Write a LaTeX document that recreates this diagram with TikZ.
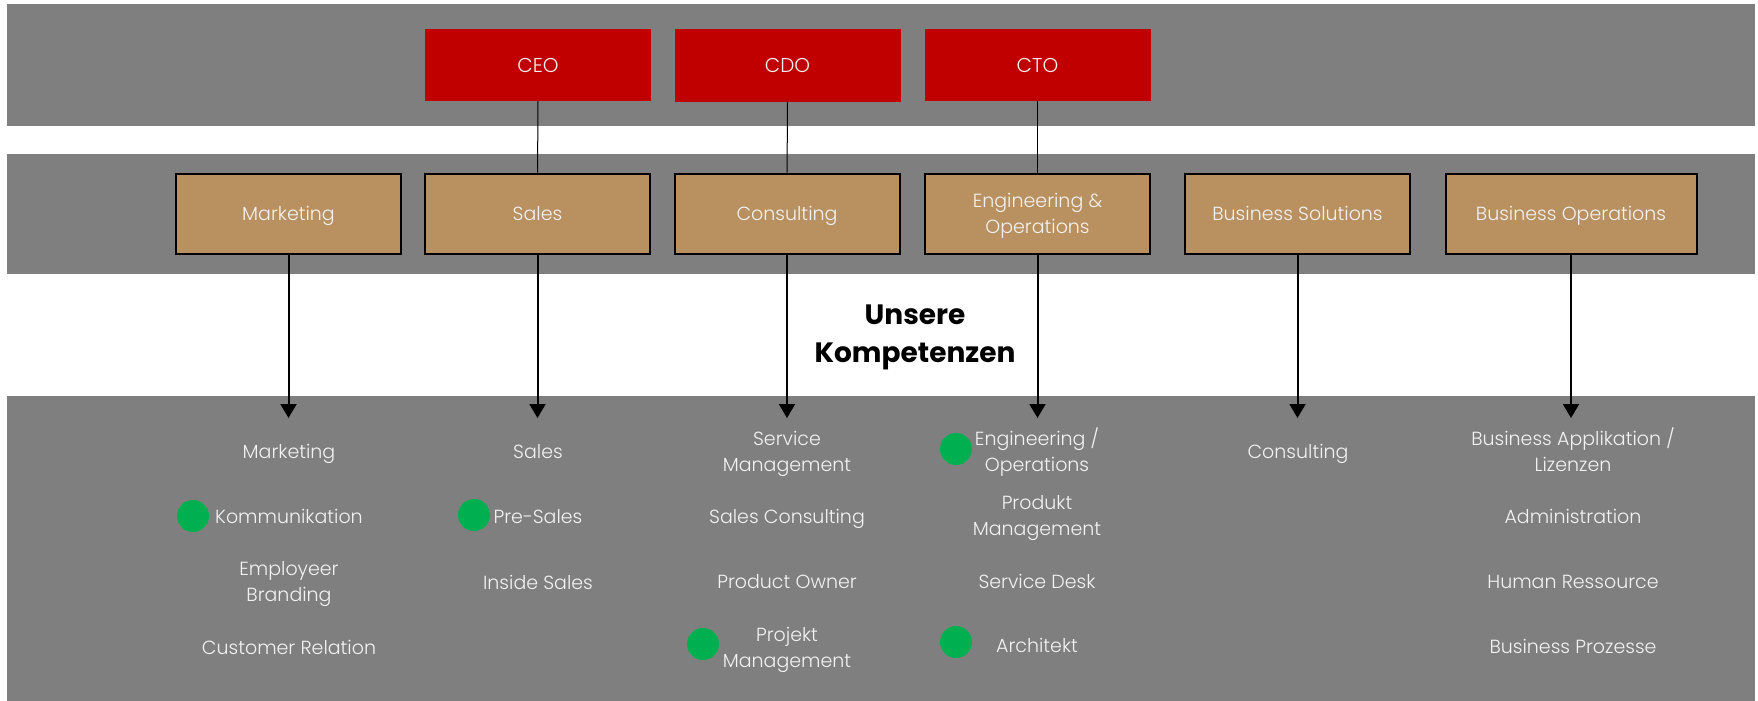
\documentclass[tikz,border=0pt]{standalone}
\usepackage{fontspec}
\setmainfont{Poppins Light}
\newfontfamily\headfont{Poppins}
\usetikzlibrary{arrows.meta}
\definecolor{bandgray}{HTML}{7F7F7F}
\definecolor{chiefred}{HTML}{C00000}
\definecolor{unitbrown}{HTML}{B99160}
\definecolor{dotgreen}{HTML}{00B050}
\definecolor{textwhite}{HTML}{F2F2F2}

\begin{document}
\begin{tikzpicture}[x=1pt,y=-1pt]
    \tikzstyle{chief}=[rectangle,fill=chiefred,minimum width=226pt,minimum height=72pt,text=textwhite,text depth=0pt,font=\fontsize{20}{24}\selectfont]
    \tikzstyle{unit}=[rectangle,draw=black,line width=2pt,fill=unitbrown,minimum width=225pt,minimum height=80pt,text=textwhite,text depth=0pt,align=center,font=\fontsize{19}{26}\selectfont]
    \tikzstyle{skill}=[text=textwhite,align=center,anchor=base,font=\fontsize{19}{26}\selectfont]
    \tikzstyle{dot}=[circle,fill=dotgreen,inner sep=0pt,minimum size=32pt]
    \tikzstyle{down}=[draw,line width=2pt,-{Triangle[length=14pt,width=16pt]}]
    \tikzstyle{link}=[draw,line width=1pt]
    \useasboundingbox (0,0) rectangle (1758,701);
    \fill[bandgray] (7,4) rectangle (1755,126);
    \fill[bandgray] (7,154) rectangle (1755,274);
    \fill[bandgray] (7,396) rectangle (1755,701);
    \node[chief] (ceo) at (538,65) {CEO};
    \node[chief] (cdo) at (787.5,65.5) {CDO};
    \node[chief] (cto) at (1037.5,65) {CTO};
    \node[unit] (marketing) at (288.5,213.5) {Marketing};
    \node[unit] (sales) at (537.5,213.5) {Sales};
    \node[unit] (consulting) at (787,213.5) {Consulting};
    \node[unit] (engops) at (1037.5,213.5) {Engineering \&\\Operations};
    \node[unit] (bsol) at (1297.5,213.5) {Business Solutions};
    \node[unit,minimum width=251pt] (bops) at (1571,213.5) {Business Operations};
    \draw[link] (ceo) -- (sales);
    \draw[link] (cdo) -- (consulting);
    \draw[link] (cto) -- (engops);
    \node[font=\headfont\bfseries\fontsize{28}{38}\selectfont,align=center] (kompetenzen) at (915,337) {Unsere\\Kompetenzen};
    \coordinate (mtip) at (288.5,418);
    \coordinate (stip) at (537.5,418);
    \coordinate (ctip) at (787,418);
    \coordinate (etip) at (1037.5,418);
    \coordinate (btip) at (1297.5,418);
    \coordinate (otip) at (1571,418);
    \draw[down] (marketing) -- (mtip);
    \draw[down] (sales) -- (stip);
    \draw[down] (consulting) -- (ctip);
    \draw[down] (engops) -- (etip);
    \draw[down] (bsol) -- (btip);
    \draw[down] (bops) -- (otip);
    \node[skill] (m1) at (289,458) {Marketing};
    \node[skill] (m2) at (289,523) {Kommunikation};
    \node[skill] (m3) at (289,601) {Employeer\\Branding};
    \node[skill] (m4) at (289,654) {Customer Relation};
    \node[skill] (s1) at (538,458) {Sales};
    \node[skill] (s2) at (538,523) {Pre-Sales};
    \node[skill] (s3) at (538,589) {Inside Sales};
    \node[skill] (c1) at (787,471) {Service\\Management};
    \node[skill] (c2) at (787,523) {Sales Consulting};
    \node[skill] (c3) at (787,588) {Product Owner};
    \node[skill] (c4) at (787,667) {Projekt\\Management};
    \node[skill] (e1) at (1037,471) {Engineering /\\Operations};
    \node[skill] (e2) at (1037,535) {Produkt\\Management};
    \node[skill] (e3) at (1037,588) {Service Desk};
    \node[skill] (e4) at (1037,652) {Architekt};
    \node[skill] (b1) at (1298,458) {Consulting};
    \node[skill] (o1) at (1573,471) {Business Applikation /\\Lizenzen};
    \node[skill] (o2) at (1573,523) {Administration};
    \node[skill] (o3) at (1573,588) {Human Ressource};
    \node[skill] (o4) at (1573,653) {Business Prozesse};
    \node[dot] (d1) at (193,516) {};
    \node[dot] (d2) at (474,515) {};
    \node[dot] (d3) at (956,449) {};
    \node[dot] (d4) at (703,644) {};
    \node[dot] (d5) at (956,642) {};
\end{tikzpicture}
\end{document}
